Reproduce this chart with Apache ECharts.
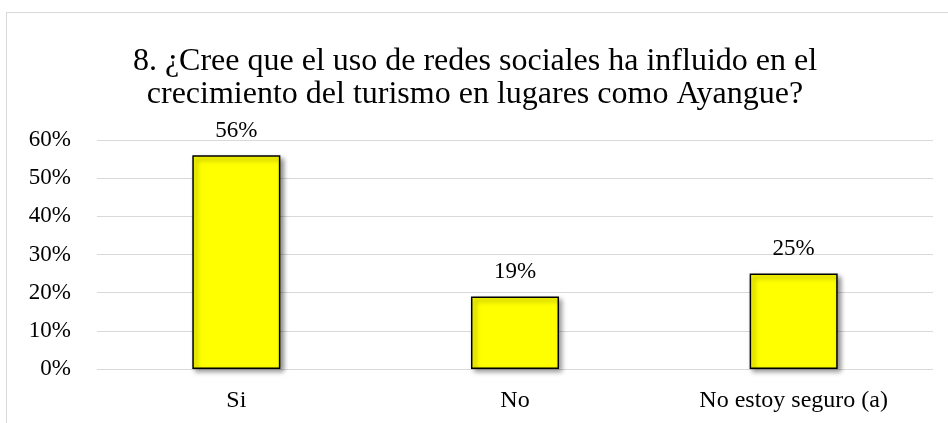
<!DOCTYPE html>
<html>
<head>
<meta charset="utf-8">
<script src="https://cdn.jsdelivr.net/npm/echarts@6/dist/echarts.min.js"></script>
<style>
  html, body { margin: 0; padding: 0; background: #fff; }
  #frame { position: absolute; left: 6px; top: 12px; width: 960px; height: 430px; border: 1px solid #d9d9d9; box-sizing: border-box; }
  #chart { width: 948px; height: 423px; position: absolute; left: 0; top: 0; }
</style>
</head>
<body>
<div id="frame"></div>
<div id="chart"></div>
<script>
// Survey answers for question 8
const categories = ['Si', 'No', 'No estoy seguro (a)'];
const percentages = [56, 19, 25];
const yTicks = [0, 10, 20, 30, 40, 50, 60];

const titleText = '8. ¿Cree que el uso de redes sociales ha influido en el\ncrecimiento del turismo en lugares como Ayangue?';
const serif = '"Liberation Serif", "Times New Roman", serif';

const chart = echarts.init(document.getElementById('chart'), null, { renderer: 'canvas' });
chart.setOption({
  animation: false,
  backgroundColor: 'transparent',
  title: {
    text: titleText,
    left: 470,
    top: 40,
    textAlign: 'center',
    textStyle: { fontFamily: serif, fontSize: 32, fontWeight: 'normal', color: '#000', lineHeight: 33 }
  },
  grid: { left: 97, right: 15, top: 140, bottom: 54, containLabel: false },
  xAxis: {
    type: 'category',
    data: categories,
    axisLine: { show: false },
    axisTick: { show: false },
    axisLabel: { fontFamily: serif, fontSize: 24, color: '#000', margin: 20 }
  },
  yAxis: {
    type: 'value',
    min: yTicks[0],
    max: yTicks[yTicks.length - 1],
    interval: 10,
    axisLine: { show: false },
    axisTick: { show: false },
    splitLine: { lineStyle: { color: '#d9d9d9', width: 1 } },
    axisLabel: { fontFamily: serif, fontSize: 23, color: '#000', margin: 26, formatter: v => v + '%' }
  },
  series: [{
    type: 'bar',
    data: percentages,
    barWidth: '31.6%',
    itemStyle: {
      color: '#ffff00',
      borderColor: '#000',
      borderWidth: 1.5,
      shadowColor: 'rgba(0,0,0,0.45)',
      shadowBlur: 5,
      shadowOffsetX: 3,
      shadowOffsetY: 3
    },
    label: {
      show: true,
      position: 'top',
      distance: 13,
      fontFamily: serif,
      fontSize: 23,
      color: '#000',
      formatter: p => p.value + '%'
    }
  }]
});
</script>
</body>
</html>
